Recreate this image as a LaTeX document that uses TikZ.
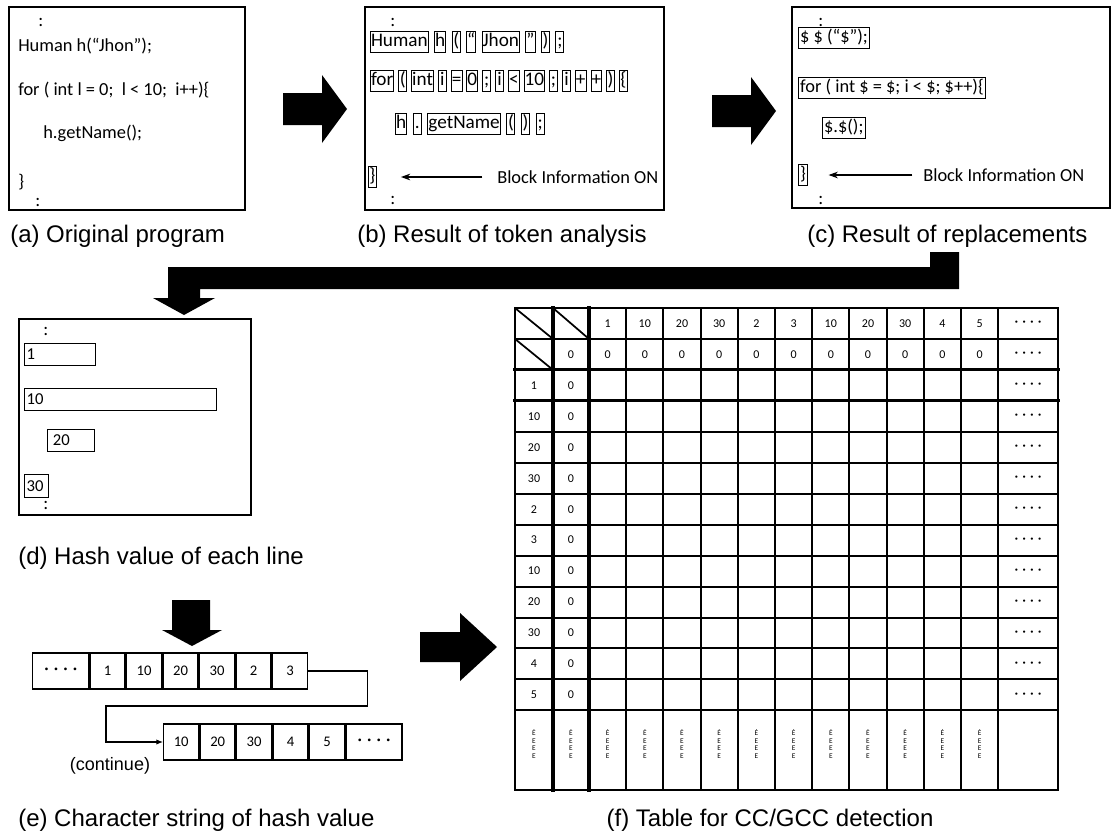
\documentclass[tikz,border=0pt]{standalone}
\usepackage{fontspec}
\setmainfont{Liberation Sans}
\newfontfamily\codefont{Carlito}
\usetikzlibrary{
    arrows.meta,
    positioning
}
\newcommand{\fourdots}{%
    {\bfseries\textperiodcentered\kern0.38em\textperiodcentered\kern0.38em%
    \textperiodcentered\kern0.38em\textperiodcentered}%
}

\begin{document}
\begin{tikzpicture}[
    x=0.75pt,
    y=-0.75pt,
    panel/.style={
        draw,
        line width=1.1pt
    },
    codeline/.style={
        anchor=west,
        inner sep=0pt,
        font=\codefont\fontsize{13.8}{16}\selectfont
    },
    token/.style={
        draw,
        line width=0.7pt,
        anchor=west,
        inner xsep=0.4pt,
        inner ysep=0.6pt,
        minimum width=6pt,
        text height=10.4pt,
        text depth=3.5pt,
        font=\codefont\fontsize{14.4}{16}\selectfont
    },
    linebox/.style={
        token,
        inner xsep=1.2pt,
        font=\codefont\fontsize{13.8}{16}\selectfont
    },
    infotext/.style={
        anchor=west,
        inner sep=0pt,
        font=\codefont\fontsize{13.8}{16}\selectfont
    },
    infoarrow/.style={
        -{Stealth[length=7pt,width=5pt]},
        line width=0.8pt
    },
    hashbox/.style={
        draw,
        line width=0.9pt,
        anchor=west,
        align=left,
        inner xsep=1.5pt,
        inner ysep=0pt,
        minimum height=17pt,
        font=\codefont\fontsize{12.5}{14}\selectfont
    },
    strcell/.style={
        draw,
        line width=1.1pt,
        minimum width=26.25pt,
        minimum height=27pt,
        inner sep=0pt,
        font=\codefont\fontsize{11}{13}\selectfont
    },
    contarrow/.style={
        -{Latex[length=5pt,width=4pt]},
        line width=0.8pt
    },
    tableline/.style={
        line width=1.5pt,
        line cap=rect
    },
    tableheavy/.style={
        line width=2.3pt,
        line cap=rect
    },
    tablecell/.style={
        inner sep=0pt,
        font=\codefont\fontsize{9}{11}\selectfont
    },
    markcell/.style={
        inner sep=0pt,
        align=center,
        font=\codefont\fontsize{5.5}{5.6}\selectfont
    },
    caption/.style={
        anchor=west,
        inner sep=0pt,
        font=\fontsize{18}{21}\selectfont
    },
    bigarrow/.style={
        fill=black
    }
]

\useasboundingbox (0,0) rectangle (1117,832);

% (a) original program

\draw[panel] (9,7) rectangle (245,210);

\node[codeline] (a-dots1) at (38,22) {:};
\node[codeline] (a-human) at (18,46) {Human h(“Jhon”);};
\node[codeline] (a-for) at (18,90) {for ( int l = 0;\ \ l < 10;\ \ i++)\{};
\node[codeline] (a-call) at (43,133) {h.getName();};
\node[codeline] (a-close) at (18,182) {\}};
\node[codeline] (a-dots2) at (35,202) {:};

\node[caption] (cap-a) at (10,236) {(a) Original program};

% (b) token analysis

\draw[panel] (365,7) rectangle (664,210);

\node[codeline] (b-dots1) at (390,22) {:};

\node[token] (b1-1) at (370,42) {Human};
\foreach \tok [count=\i from 2, remember=\i as \j (initially 1)] in
    {{h},{(},{“},{Jhon},{”},{)},{;}}
    \node[token, right=4.1pt of b1-\j] (b1-\i) {\tok};

\node[token] (b2-1) at (370,81) {for};
\foreach \tok [count=\i from 2, remember=\i as \j (initially 1)] in
    {{(},{int},{i},{=},{0},{;},{i},{<},{10},{;},{i},{+},{+},{)},{\{}}
    \node[token, right=3pt of b2-\j] (b2-\i) {\tok};

\node[token] (b3-1) at (395,124) {h};
\foreach \tok [count=\i from 2, remember=\i as \j (initially 1)] in
    {{.},{getName},{(},{)},{;}}
    \node[token, right=4.3pt of b3-\j] (b3-\i) {\tok};

\node[token] (b-close) at (368,177) {\}};
\node[infotext] (b-info) at (497,177) {Block Information ON};

\draw[infoarrow, shorten <=11pt, shorten >=18pt]
    (b-info.west) -- (b-close.east);

\node[codeline] (b-dots2) at (390,200) {:};

\node[caption] (cap-b) at (357,236) {(b) Result of token analysis};

% (c) replacements

\draw[panel] (792,7) rectangle (1110,208);

\node[codeline] (c-dots1) at (818,22) {:};
\node[linebox] (c-decl) at (798,38) {\$ \$ (“\$”);};
\node[linebox] (c-for) at (798,88) {for ( int \$ = \$; i < \$; \$++)\{};
\node[linebox] (c-call) at (822,128) {\$.\$();};
\node[linebox] (c-close) at (798,175) {\}};
\node[infotext] (c-info) at (923,175) {Block Information ON};

\draw[infoarrow, shorten <=8pt, shorten >=15.5pt]
    (c-info.west) -- (c-close.east);

\node[codeline] (c-dots2) at (818,200) {:};

\node[caption] (cap-c) at (807,236) {(c) Result of replacements};

% arrows between the upper panels

\fill[bigarrow] (283,93) -- (322,93) -- (322,75) -- (347,109)
    -- (322,143) -- (322,125) -- (283,125) -- cycle;

\fill[bigarrow] (712,95) -- (751,95) -- (751,77) -- (776,111)
    -- (751,145) -- (751,127) -- (712,127) -- cycle;

% from (c) down to (d)

\fill[bigarrow] (930,252) -- (959,252) -- (959,289) -- (200,289)
    -- (200,298) -- (215,298) -- (184,315) -- (153,298)
    -- (168,298) -- (168,267) -- (930,267) -- cycle;

% (d) hash value of each line

\draw[panel] (19,319) rectangle (251,515);

\node[codeline] (d-dots1) at (43,331) {:};
\node[hashbox, text width=50pt] (d-1) at (24,354.5) {1};
\node[hashbox, text width=141pt] (d-10) at (24,399.5) {10};
\node[hashbox, text width=27pt, inner xsep=4pt] (d-20) at (47,440.5) {20};
\node[hashbox, text width=15pt] (d-30) at (24,486) {30};
\node[codeline] (d-dots2) at (43,505) {:};

\node[caption] (cap-d) at (18,558) {(d) Hash value of each line};

% (e) character string

\fill[bigarrow] (172,600) -- (210,600) -- (210,630) -- (222,630)
    -- (192,646) -- (162,630) -- (172,630) -- cycle;

\node[strcell, minimum width=42pt, anchor=west] (e1-1) at (32,671) {\fourdots};
\foreach \v [count=\i from 2, remember=\i as \j (initially 1)] in {1,10,20,30,2,3}
    \node[strcell, right=0pt of e1-\j] (e1-\i) {\v};

\node[strcell, anchor=west] (e2-1) at (163,742) {10};
\foreach \v [count=\i from 2, remember=\i as \j (initially 1)] in {20,30,4,5}
    \node[strcell, right=0pt of e2-\j] (e2-\i) {\v};
\node[strcell, minimum width=42pt, right=0pt of e2-5] (e2-6) {\fourdots};

\coordinate (cont-turn) at (106,706);

\draw[contarrow]
    (e1-7.east) -| ++(59,35) -- (cont-turn) |- (e2-1.west);

\node[inner sep=0pt, font=\fontsize{13.5}{15}\selectfont] (cont) at (110,766) {(continue)};

\node[caption] (cap-e) at (18,820) {(e) Character string of hash value};

% to the table

\fill[bigarrow] (420,632) -- (460,632) -- (460,613) -- (497,647)
    -- (460,681) -- (460,662) -- (420,662) -- cycle;

% (f) table for CC/GCC detection

\foreach \x in {515,553,589,626.2,663.4,700.6,737.8,775,812.2,849.4,886.6,923.8,961,998.2,1058}
    \draw[tableline] (\x,308) -- (\x,790);
\foreach \k in {0,...,13}
    \draw[tableline] (515,{308+30.95*\k}) -- (1058,{308+30.95*\k});
\draw[tableline] (515,790) -- (1058,790);

\draw[tableheavy] (553,308) -- (553,790);
\draw[tableheavy] (589,308) -- (589,790);
\draw[tableheavy] (515,369.9) -- (1058,369.9);
\draw[tableheavy] (515,400.85) -- (1058,400.85);

\draw[line width=1.3pt] (515,308) -- (553,338.95);
\draw[line width=1.3pt] (553,308) -- (589,338.95);
\draw[line width=1.3pt] (515,338.95) -- (553,369.9);

\foreach \v [count=\k] in {1,10,20,30,2,3,10,20,30,4,5} {
    \node[tablecell] (head-\k) at ({589+37.2*(\k-0.5)},323.5) {\v};
    \node[tablecell] (init-\k) at ({589+37.2*(\k-0.5)},354.4) {0};
    \node[tablecell] (row-\k) at (534,{308+30.95*(\k+1.5)}) {\v};
    \node[tablecell] (rowinit-\k) at (571,{308+30.95*(\k+1.5)}) {0};
    \node[tablecell] (rowmore-\k) at (1028,{308+30.95*(\k+1.5)}) {\fourdots};
}
\node[tablecell] (init-0) at (571,354.4) {0};
\node[tablecell] (headmore) at (1028,323.5) {\fourdots};
\node[tablecell] (initmore) at (1028,354.4) {\fourdots};

\foreach \x [count=\k] in {534,571,607.6,644.8,682,719.2,756.4,793.6,830.8,868,905.2,942.4,979.6}
    \node[markcell] (mark-\k) at (\x,744) {Ė\\E\\E\\E};

\node[caption, anchor=center] (cap-f) at (770,820) {(f) Table for CC/GCC detection};

\end{tikzpicture}
\end{document}
